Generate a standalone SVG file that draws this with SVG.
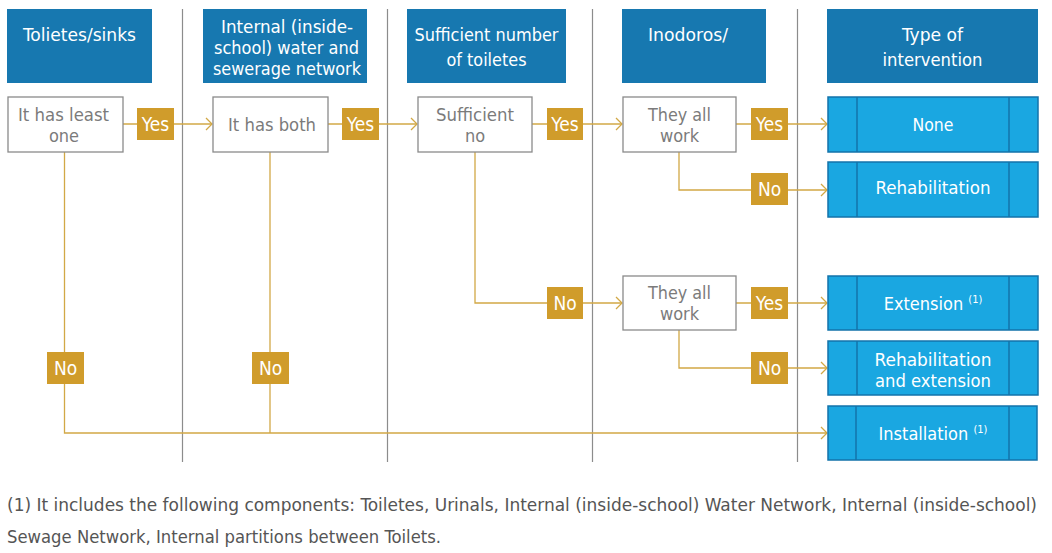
<svg xmlns="http://www.w3.org/2000/svg" width="1052" height="553" viewBox="0 0 1052 553">
<style>
.hdr{fill:#1778b0}
.ht{fill:#fff;font-family:"Liberation Sans Narrow","DejaVu Sans Condensed","Liberation Sans",sans-serif;font-size:18px;text-anchor:middle}
.box{fill:#fff;stroke:#8a8a8a;stroke-width:1.3}
.bt{fill:#7b7b7b;font-family:"Liberation Sans Narrow","DejaVu Sans Condensed","Liberation Sans",sans-serif;font-size:18px;text-anchor:middle}
.res{fill:#1aa7e1;stroke:#1373aa;stroke-width:1.5}
.rl{stroke:#1373aa;stroke-width:1.5}
.rt{fill:#fff;font-family:"Liberation Sans Narrow","DejaVu Sans Condensed","Liberation Sans",sans-serif;font-size:18px;text-anchor:middle}
.sup{font-size:11px}
.lab{fill:#d09c2b}
.lt{fill:#fff;font-family:"Liberation Sans Narrow","DejaVu Sans Condensed","Liberation Sans",sans-serif;font-size:19px;text-anchor:middle}
.sep{stroke:#8c8c8c;stroke-width:1.2}
.con{fill:none;stroke:#d2a846;stroke-width:1.3}
.fn{fill:#555;font-family:"Liberation Sans Narrow","DejaVu Sans Condensed","Liberation Sans",sans-serif;font-size:17px}
</style>
<defs>
<marker id="arr" markerWidth="10" markerHeight="14" refX="8" refY="7" orient="auto" markerUnits="userSpaceOnUse">
<path d="M2,1 L8,7 L2,13" fill="none" stroke="#d2a846" stroke-width="1.3"/>
</marker>
</defs>
<rect width="1052" height="553" fill="#fff"/>
<g id="separators">
<line class="sep" x1="182.5" y1="9" x2="182.5" y2="462"/>
<line class="sep" x1="387.5" y1="9" x2="387.5" y2="462"/>
<line class="sep" x1="592.5" y1="9" x2="592.5" y2="462"/>
<line class="sep" x1="797.5" y1="9" x2="797.5" y2="462"/>
</g>
<g id="headers">
<g id="h1"><rect class="hdr" x="7" y="9" width="145" height="74"/><text class="ht" x="79.5" y="41" textLength="113" lengthAdjust="spacingAndGlyphs">Tolietes/sinks</text></g>
<g id="h2"><rect class="hdr" x="203" y="9" width="164" height="74"/>
<text class="ht" x="287" y="33" textLength="132" lengthAdjust="spacingAndGlyphs">Internal (inside-</text>
<text class="ht" x="286.5" y="54" textLength="145" lengthAdjust="spacingAndGlyphs">school) water and</text>
<text class="ht" x="287" y="75" textLength="148" lengthAdjust="spacingAndGlyphs">sewerage network</text></g>
<g id="h3"><rect class="hdr" x="407" y="9" width="159" height="74"/>
<text class="ht" x="486.5" y="41" textLength="144" lengthAdjust="spacingAndGlyphs">Sufficient number</text>
<text class="ht" x="486.5" y="66" textLength="80" lengthAdjust="spacingAndGlyphs">of toiletes</text></g>
<g id="h4"><rect class="hdr" x="622" y="9" width="144" height="74"/>
<text class="ht" x="688" y="41" textLength="80" lengthAdjust="spacingAndGlyphs">Inodoros/</text></g>
<g id="h5"><rect class="hdr" x="827" y="9" width="211" height="74"/>
<text class="ht" x="932.5" y="41" textLength="61" lengthAdjust="spacingAndGlyphs">Type of</text>
<text class="ht" x="932.5" y="66" textLength="100" lengthAdjust="spacingAndGlyphs">intervention</text></g>
</g>
<g id="connectors">
<line class="con" x1="123" y1="124" x2="212" y2="124" marker-end="url(#arr)"/>
<line class="con" x1="328" y1="124" x2="417" y2="124" marker-end="url(#arr)"/>
<line class="con" x1="532" y1="124" x2="622" y2="124" marker-end="url(#arr)"/>
<line class="con" x1="736" y1="124" x2="827" y2="124" marker-end="url(#arr)"/>
<polyline class="con" points="679,152 679,190 827,190" marker-end="url(#arr)"/>
<polyline class="con" points="475,152 475,303 622,303" marker-end="url(#arr)"/>
<line class="con" x1="736" y1="303" x2="827" y2="303" marker-end="url(#arr)"/>
<polyline class="con" points="679,330 679,368 827,368" marker-end="url(#arr)"/>
<polyline class="con" points="64.5,152 64.5,433 827,433" marker-end="url(#arr)"/>
<line class="con" x1="270" y1="152" x2="270" y2="433"/>
</g>
<g id="labels">
<g><rect class="lab" x="137" y="108" width="37" height="32"/><text class="lt" x="155.5" y="131">Yes</text></g>
<g><rect class="lab" x="342" y="108" width="37" height="32"/><text class="lt" x="360.5" y="131">Yes</text></g>
<g><rect class="lab" x="547" y="108" width="36" height="32"/><text class="lt" x="565" y="131">Yes</text></g>
<g><rect class="lab" x="751" y="108" width="37" height="32"/><text class="lt" x="769.5" y="131">Yes</text></g>
<g><rect class="lab" x="751" y="173" width="37" height="32"/><text class="lt" x="769.5" y="196">No</text></g>
<g><rect class="lab" x="547" y="287" width="36" height="32"/><text class="lt" x="565" y="310">No</text></g>
<g><rect class="lab" x="751" y="287" width="37" height="32"/><text class="lt" x="769.5" y="310">Yes</text></g>
<g><rect class="lab" x="751" y="352" width="37" height="32"/><text class="lt" x="769.5" y="375">No</text></g>
<g><rect class="lab" x="47" y="352" width="37" height="32"/><text class="lt" x="65.5" y="375">No</text></g>
<g><rect class="lab" x="252" y="352" width="37" height="32"/><text class="lt" x="270.5" y="375">No</text></g>
</g>
<g id="n1"><rect class="box" x="8" y="97" width="115" height="55"/>
<text class="bt" x="63.5" y="121" textLength="91" lengthAdjust="spacingAndGlyphs">It has least</text>
<text class="bt" x="64" y="142">one</text></g>
<g id="n2"><rect class="box" x="213" y="97" width="115" height="55"/>
<text class="bt" x="272" y="131" textLength="88" lengthAdjust="spacingAndGlyphs">It has both</text></g>
<g id="n3"><rect class="box" x="418" y="97" width="114" height="55"/>
<text class="bt" x="475" y="121" textLength="78" lengthAdjust="spacingAndGlyphs">Sufficient</text>
<text class="bt" x="475" y="142">no</text></g>
<g id="n4"><rect class="box" x="623" y="97" width="113" height="55"/>
<text class="bt" x="679.5" y="121" textLength="63" lengthAdjust="spacingAndGlyphs">They all</text>
<text class="bt" x="679.5" y="142">work</text></g>
<g id="n5"><rect class="box" x="623" y="276" width="113" height="54"/>
<text class="bt" x="679.5" y="299" textLength="63" lengthAdjust="spacingAndGlyphs">They all</text>
<text class="bt" x="679.5" y="320">work</text></g>
<g id="r1"><rect class="res" x="828" y="97" width="210" height="55"/><line class="rl" x1="857" y1="97" x2="857" y2="152"/><line class="rl" x1="1009" y1="97" x2="1009" y2="152"/>
<text class="rt" x="933" y="131" textLength="41" lengthAdjust="spacingAndGlyphs">None</text></g>
<g id="r2"><rect class="res" x="828" y="162" width="210" height="55"/><line class="rl" x1="857" y1="162" x2="857" y2="217"/><line class="rl" x1="1009" y1="162" x2="1009" y2="217"/>
<text class="rt" x="933" y="194" textLength="115" lengthAdjust="spacingAndGlyphs">Rehabilitation</text></g>
<g id="r3"><rect class="res" x="828" y="276" width="210" height="54"/><line class="rl" x1="857" y1="276" x2="857" y2="330"/><line class="rl" x1="1009" y1="276" x2="1009" y2="330"/>
<text class="rt" x="933" y="310">Extension <tspan class="sup" dy="-7">(1)</tspan></text></g>
<g id="r4"><rect class="res" x="828" y="341" width="210" height="54"/><line class="rl" x1="857" y1="341" x2="857" y2="395"/><line class="rl" x1="1009" y1="341" x2="1009" y2="395"/>
<text class="rt" x="933" y="366" textLength="117" lengthAdjust="spacingAndGlyphs">Rehabilitation</text>
<text class="rt" x="933" y="387" textLength="116" lengthAdjust="spacingAndGlyphs">and extension</text></g>
<g id="r5"><rect class="res" x="828" y="406" width="209" height="54"/><line class="rl" x1="856" y1="406" x2="856" y2="460"/><line class="rl" x1="1009" y1="406" x2="1009" y2="460"/>
<text class="rt" x="933" y="440">Installation <tspan class="sup" dy="-7">(1)</tspan></text></g>
<g id="footnote">
<text class="fn" x="7" y="511" textLength="1030" lengthAdjust="spacingAndGlyphs">(1) It includes the following components: Toiletes, Urinals, Internal (inside-school) Water Network, Internal (inside-school)</text>
<text class="fn" x="7" y="543" textLength="434" lengthAdjust="spacingAndGlyphs">Sewage Network, Internal partitions between Toilets.</text>
</g>
</svg>
